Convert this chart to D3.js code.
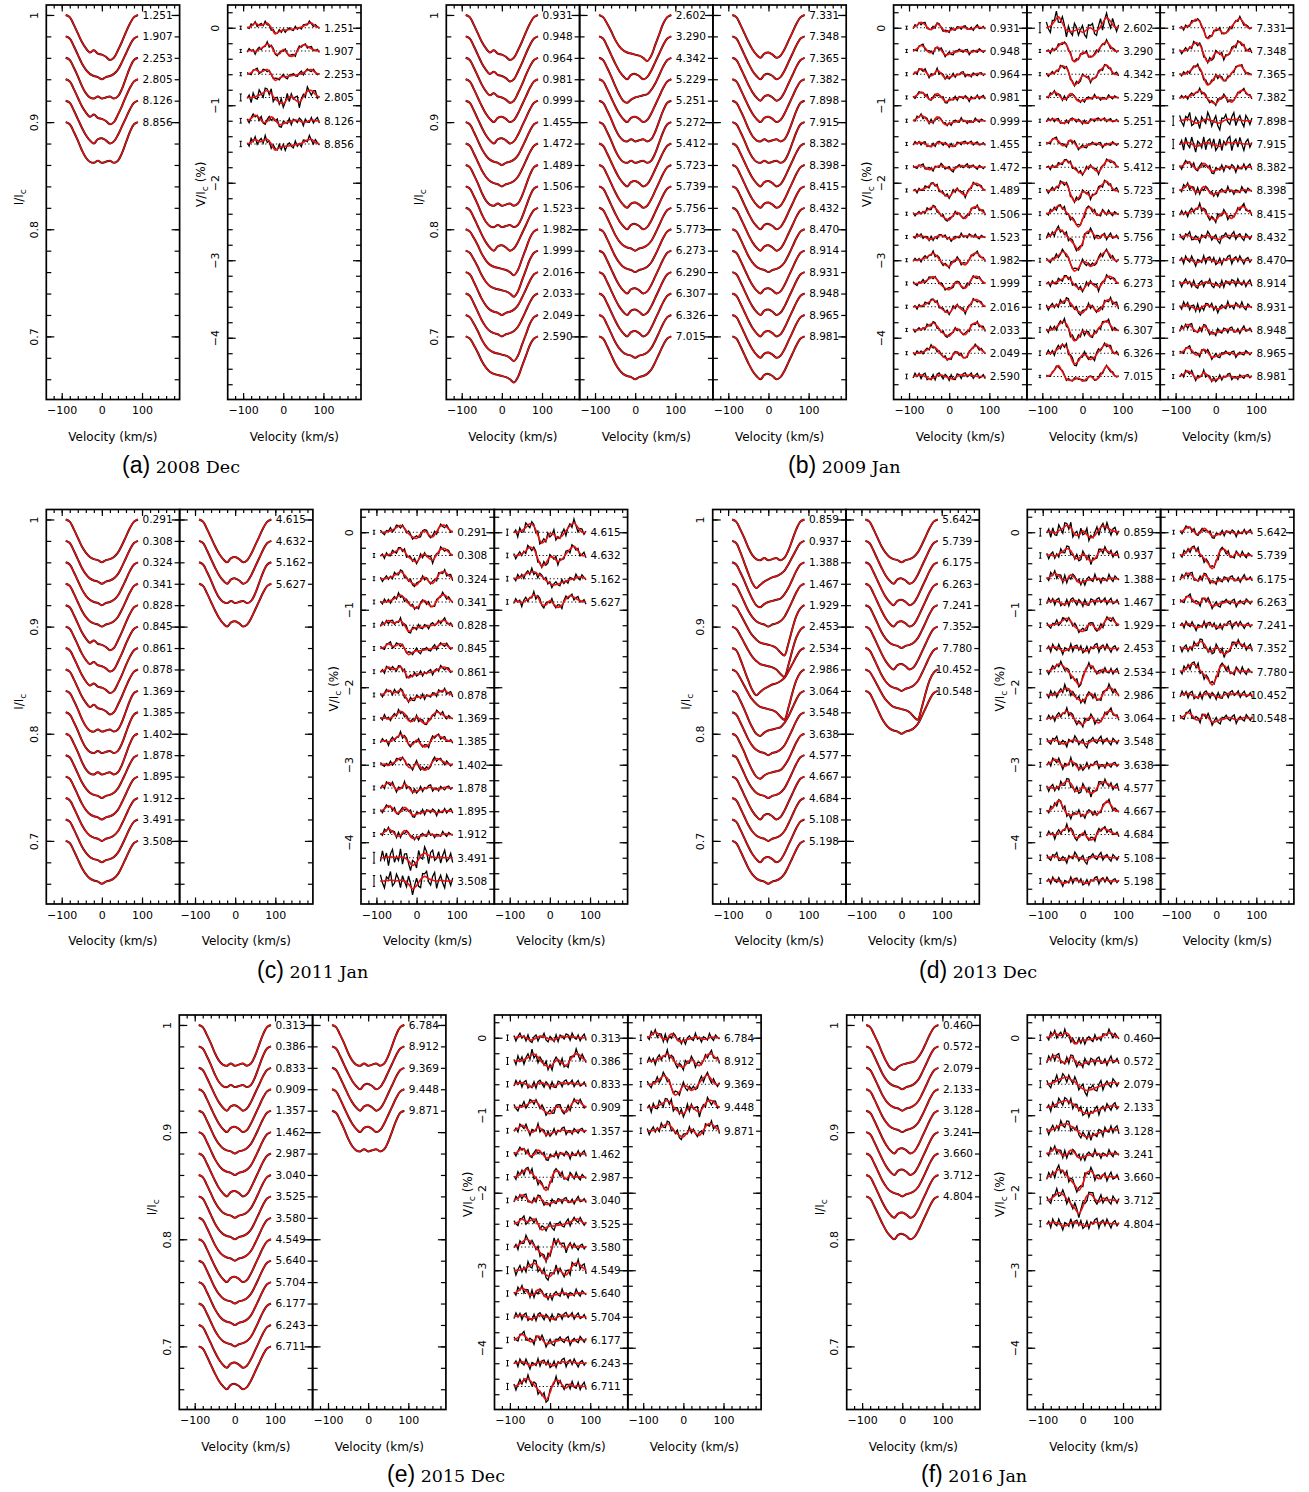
<!DOCTYPE html>
<html>
<head>
<meta charset="utf-8">
<script src="https://cdn.jsdelivr.net/npm/d3@7"></script>
<style>
	body { margin: 0; background: #fff; }
	svg text { font-family: "DejaVu Sans", sans-serif; fill: #000; }
</style>
</head>
<body>
<div id="chart"></div>
<script>

// velocity grids (km/s) for the model and observed profiles
let velGrid = [-90,-80,-70,-60,-50,-40,-30,-20,-10,0,10,20,30,40,50,60,70,80,90];
let velObs = [-90,-85,-80,-75,-70,-65,-60,-55,-50,-45,-40,-35,-30,-25,-20,-15,-10,-5,0,5,10,15,20,25,30,35,40,45,50,55,60,65,70,75,80,85,90];

let velTicks = [-100, 0, 100];
let iMajorTicks = [0.7, 0.8, 0.9, 1];
let vMajorTicks = [-4, -3, -2, -1, 0];

// Stokes I line depths, in units of 0.001 Ic, on velGrid
let iShapes = [
	[0,2,9,17,25,31,35,33,36,37,39,42,40,33,25,16,8,2,0],
	[0,2,9,17,26,34,40,42,39,37,36,35,34,30,24,16,8,2,0],
	[0,2,9,17,25,32,37,40,36,35,37,40,38,32,24,16,8,2,0],
	[0,2,9,17,25,31,35,37,38,40,38,37,35,31,24,16,8,2,0],
	[0,2,8,15,23,29,33,35,36,37,38,40,43,38,28,18,8,2,0],
	[0,2,9,17,26,33,37,38,36,38,37,36,38,36,29,19,9,2,0],
	[0,2,8,15,22,28,32,35,36,37,38,40,44,47,36,22,10,3,0],
	[0,2,10,20,30,39,44,41,38,36,34,33,31,28,22,15,8,2,0]
];

// Stokes V model profiles, in units of 0.01 %, on velGrid
let vShapes = [
	[0,3,7,4,-2,-1,5,1,-5,-4,-2,-1,1,0,-2,-1,1,0,0],
	[0,0,2,6,11,8,-4,-14,-10,-2,-3,-8,-5,2,8,12,6,0,0],
	[0,2,6,10,8,2,-4,-10,-17,-8,6,8,2,-2,3,0,1,0,0],
	[0,2,6,3,4,6,0,-8,-5,-3,-3,-2,-1,0,2,5,6,2,0],
	[0,0,1,3,6,9,5,-2,-6,-8,-2,2,-3,-6,1,8,9,4,0],
	[0,1,-1,2,5,9,6,-3,-4,2,-3,-7,-4,4,8,6,3,1,0],
	[0,1,2,0,-3,-2,1,2,0,-2,-3,0,2,1,2,1,0,0,0],
	[0,2,8,14,6,-3,-5,-4,-2,-6,-3,0,-4,-2,6,13,8,1,0],
	[0,0,1,1,0,1,0,-4,-10,-6,2,6,3,1,0,1,0,0,0],
	[0,1,3,6,8,9,6,3,-2,-6,-8,-7,-5,-3,-1,0,2,2,0]
];

// observed minus model, in units of the error bar, on velObs
let residuals = [
	[0.4,-0.9,1.3,-0.2,0.8,-1.2,0.3,0.9,-0.7,1.5,-1.0,0.2,-1.4,0.7,0.5,-0.3,1.1,-0.8,0.6,-1.3,0.4,1.0,-0.2,-0.9,1.2,-0.6,0.1,-1.1,0.8,0.3,-0.5,1.4,-0.3,-1.0,0.9,0.2,-0.4],
	[-0.6,1.1,-0.3,0.7,-1.4,0.5,1.2,-0.8,0.2,-0.5,1.3,-1.1,0.6,0.9,-0.4,-1.2,0.8,0.3,-0.9,1.4,-0.2,-0.7,1.0,0.4,-1.3,0.6,1.1,-0.5,-0.1,0.9,-1.0,0.3,1.2,-0.6,-0.2,0.7,-0.8],
	[1.0,-0.3,-1.1,0.6,0.2,1.4,-0.9,-0.4,1.1,0.3,-1.2,0.8,-0.1,-0.7,1.3,0.5,-1.0,0.2,1.2,-0.6,-1.3,0.7,0.4,1.0,-0.5,-0.9,0.6,1.3,-1.2,0.1,0.8,-0.4,-1.1,1.0,0.3,-0.7,0.5],
	[-0.2,0.6,-1.3,1.0,-0.4,-0.8,1.3,0.1,-1.1,0.9,0.4,-0.6,1.2,-1.3,0.3,0.8,-0.5,1.1,-0.9,-0.2,1.4,-1.0,0.5,-0.3,0.7,1.2,-1.4,0.2,0.6,-0.8,1.1,-0.1,-1.2,0.4,0.9,-0.6,0.3],
	[0.7,-1.2,0.2,1.1,-0.6,0.4,-1.0,1.3,-0.3,-0.9,0.8,1.0,-1.3,0.1,-0.4,1.2,-0.7,-1.1,0.9,0.3,-0.5,1.3,-1.2,0.6,-0.1,-0.8,1.0,0.5,-1.3,1.1,-0.2,-0.6,0.9,-1.0,0.4,1.2,-0.9]
];

// 2008 Dec
let phases2008Dec = [1.251,1.907,2.253,2.805,8.126,8.856];
let iShape2008Dec = [0,3,5,0,2,5];
let vShape2008Dec = [3,5,3,4,0,3];
let sigma2008Dec = [0.02,0.02,0.02,0.045,0.03,0.035];

// 2009 Jan
let phases2009Jan = [0.931,0.948,0.964,0.981,0.999,1.455,1.472,1.489,1.506,1.523,1.982,1.999,2.016,2.033,2.049,2.590,
	2.602,3.290,4.342,5.229,5.251,5.272,5.412,5.723,5.739,5.756,5.773,6.273,6.290,6.307,6.326,7.015,
	7.331,7.348,7.365,7.382,7.898,7.915,8.382,8.398,8.415,8.432,8.470,8.914,8.931,8.948,8.965,8.981];
let iShape2009Jan = [0,0,0,2,2,3,3,5,5,2,4,4,3,3,4,4, 4,2,1,2,5,5,2,2,2,3,3,2,2,2,3,3, 2,2,2,2,5,5,2,2,2,2,3,2,2,2,2,2];
let vShape2009Jan = [0,0,0,0,0,6,6,4,4,6,4,4,4,4,4,6, 7,1,1,0,6,0,4,1,2,2,1,4,4,1,1,7, 1,1,1,4,6,6,0,0,4,6,6,6,6,0,0,0];
let sigma2009Jan = [0.02,0.02,0.02,0.02,0.02,0.02,0.02,0.02,0.02,0.02,0.02,0.02,0.02,0.02,0.02,0.03,
	0.065,0.02,0.02,0.02,0.02,0.02,0.02,0.025,0.025,0.03,0.025,0.025,0.03,0.03,0.03,0.015,
	0.02,0.025,0.02,0.02,0.06,0.06,0.03,0.03,0.03,0.035,0.035,0.035,0.035,0.03,0.025,0.025];

// 2011 Jan
let phases2011Jan = [0.291,0.308,0.324,0.341,0.828,0.845,0.861,0.878,1.369,1.385,1.402,1.878,1.895,1.912,3.491,3.508,
	4.615,4.632,5.162,5.627];
let iShape2011Jan = [3,3,3,3,0,0,0,0,5,5,5,3,3,3,3,3, 2,2,5,2];
let vShape2011Jan = [4,4,4,4,3,3,3,3,5,5,5,0,0,0,8,8, 1,1,9,5];
let sigma2011Jan = [0.025,0.025,0.025,0.025,0.025,0.025,0.025,0.025,0.025,0.025,0.025,0.025,0.025,0.025,0.07,0.07,
	0.04,0.03,0.03,0.03];

// 2013 Dec
let phases2013Dec = [0.859,0.937,1.388,1.467,1.929,2.453,2.534,2.986,3.064,3.548,3.638,4.577,4.667,4.684,5.108,5.198,
	5.642,5.739,6.175,6.263,7.241,7.352,7.780,10.452,10.548];
let iShape2013Dec = [5,7,1,3,6,6,7,6,1,3,1,3,2,3,2,3, 3,2,2,2,3,2,3,6,3];
let vShape2013Dec = [5,5,0,6,4,6,2,4,4,6,0,5,7,5,6,6, 0,2,0,0,6,5,2,6,0];
let sigma2013Dec = [0.05,0.035,0.035,0.035,0.03,0.035,0.03,0.035,0.03,0.035,0.03,0.035,0.03,0.03,0.035,0.03,
	0.025,0.03,0.03,0.03,0.03,0.035,0.035,0.035,0.035];

// 2015 Dec
let phases2015Dec = [0.313,0.386,0.833,0.909,1.357,1.462,2.987,3.040,3.525,3.580,4.549,5.640,5.704,6.177,6.243,6.711,
	6.784,8.912,9.369,9.448,9.871];
let iShape2015Dec = [5,5,2,2,3,3,2,3,3,3,2,3,3,3,2,2, 5,2,2,2,5];
let vShape2015Dec = [6,4,6,4,0,0,2,0,3,2,4,0,6,0,6,2, 0,4,1,4,4];
let sigma2015Dec = [0.035,0.045,0.035,0.035,0.03,0.03,0.035,0.03,0.035,0.035,0.045,0.035,0.035,0.035,0.035,0.04,
	0.035,0.035,0.035,0.04,0.035];

// 2016 Jan
let phases2016Jan = [0.460,0.572,2.079,2.133,3.128,3.241,3.660,3.712,4.804];
let iShape2016Jan = [1,3,3,3,2,2,3,2,2];
let vShape2016Jan = [3,0,9,9,9,0,2,2,6];
let sigma2016Jan = [0.035,0.04,0.045,0.04,0.04,0.035,0.04,0.045,0.04];

let epochs = [
	{tag: "(a)", title: "2008 Dec", phases: phases2008Dec, iShape: iShape2008Dec, vShape: vShape2008Dec, sigma: sigma2008Dec},
	{tag: "(b)", title: "2009 Jan", phases: phases2009Jan, iShape: iShape2009Jan, vShape: vShape2009Jan, sigma: sigma2009Jan},
	{tag: "(c)", title: "2011 Jan", phases: phases2011Jan, iShape: iShape2011Jan, vShape: vShape2011Jan, sigma: sigma2011Jan},
	{tag: "(d)", title: "2013 Dec", phases: phases2013Dec, iShape: iShape2013Dec, vShape: vShape2013Dec, sigma: sigma2013Dec},
	{tag: "(e)", title: "2015 Dec", phases: phases2015Dec, iShape: iShape2015Dec, vShape: vShape2015Dec, sigma: sigma2015Dec},
	{tag: "(f)", title: "2016 Jan", phases: phases2016Jan, iShape: iShape2016Jan, vShape: vShape2016Jan, sigma: sigma2016Jan}
];

// page layout
let rowTop = [5, 509.5, 1015];
let captionY = [472.5, 977.5, 1482];
let panelW = 133.3, panelH = 394.5;
let perColumn = 16;
let placement = [
	{row: 0, iLeft: 46.3, vLeft: 227.7, capX: 122},
	{row: 0, iLeft: 446.3, vLeft: 893.6, capX: 788},
	{row: 1, iLeft: 46.3, vLeft: 361, capX: 257},
	{row: 1, iLeft: 712.7, vLeft: 1027.3, capX: 919},
	{row: 2, iLeft: 179.3, vLeft: 494.5, capX: 387},
	{row: 2, iLeft: 846.7, vLeft: 1027.3, capX: 921}
];

let velDomain = [-138.4, 193.6];
let iDomain = [0.6411, 1.0093];
let vDomain = [-4.797, 0.2933];
let iStep = 0.02, vStep = 0.3;


class ProfilePanel {

	constructor(svg, config) {
		this.svg = svg;
		this.config = config;
		this.initVis();
	}

	initVis() {
		let vis = this;
		let c = vis.config;

		vis.g = vis.svg.append("g")
			.attr("transform", "translate(" + c.left + "," + c.top + ")");

		vis.x = d3.scaleLinear().domain(velDomain).range([0, panelW]);
		vis.y = d3.scaleLinear()
			.domain(c.stokes === "I" ? iDomain : vDomain)
			.range([panelH, 0]);

		vis.drawAxes();
		vis.updateVis();
	}

	drawAxes() {
		let vis = this;
		let c = vis.config;

		let minorX = d3.range(-120, 181, 20);
		let majorY = c.stokes === "I" ? iMajorTicks : vMajorTicks;
		let minorY = c.stokes === "I" ? d3.range(0.66, 1.005, 0.02) : d3.range(-4.6, 0.25, 0.2);

		let addAxis = (axis, tx, ty) => {
			let a = vis.g.append("g")
				.attr("class", "axis")
				.attr("transform", "translate(" + tx + "," + ty + ")")
				.call(axis.tickSizeOuter(0));
			a.select(".domain").remove();
			a.selectAll("line").attr("stroke", "#000").attr("stroke-width", 1.2);
			a.selectAll("text").attr("font-family", "DejaVu Sans").attr("font-size", 11);
			return a;
		};

		// velocity axes, labelled at the bottom only
		addAxis(d3.axisBottom(vis.x).tickValues(velTicks).tickSize(-6.5).tickPadding(7).tickFormat(d3.format("d")), 0, panelH);
		addAxis(d3.axisBottom(vis.x).tickValues(minorX).tickSize(-3.5).tickFormat(""), 0, panelH);
		addAxis(d3.axisTop(vis.x).tickValues(velTicks).tickSize(-6.5).tickFormat(""), 0, 0);
		addAxis(d3.axisTop(vis.x).tickValues(minorX).tickSize(-3.5).tickFormat(""), 0, 0);

		// intensity axes
		let left = addAxis(d3.axisLeft(vis.y).tickValues(majorY).tickSize(-8), 0, 0);
		addAxis(d3.axisLeft(vis.y).tickValues(minorY).tickSize(-5).tickFormat(""), 0, 0);
		addAxis(d3.axisRight(vis.y).tickValues(majorY).tickSize(-8).tickFormat(""), panelW, 0);
		addAxis(d3.axisRight(vis.y).tickValues(minorY).tickSize(-5).tickFormat(""), panelW, 0);

		if (c.showYLabels) {
			left.selectAll("text")
				.text(d => c.stokes === "I" ? (d === 1 ? "1" : d3.format(".1f")(d)) : d3.format("d")(d))
				.attr("x", 0)
				.attr("dy", 0)
				.attr("text-anchor", "middle")
				.attr("transform", "translate(-8.5,0) rotate(-90)");
		} else {
			left.selectAll("text").remove();
		}

		vis.g.append("rect")
			.attr("width", panelW)
			.attr("height", panelH)
			.attr("fill", "none")
			.attr("stroke", "#000")
			.attr("stroke-width", 1.7);

		vis.g.append("text")
			.attr("x", panelW / 2)
			.attr("y", panelH + 41)
			.attr("text-anchor", "middle")
			.attr("font-size", 12)
			.text("Velocity (km/s)");
	}

	updateVis() {
		let vis = this;
		let c = vis.config;

		let smooth = d3.line()
			.x(d => vis.x(d[0]))
			.y(d => vis.y(d[1]))
			.curve(d3.curveCatmullRom);
		let jagged = d3.line()
			.x(d => vis.x(d[0]))
			.y(d => vis.y(d[1]));

		let profiles = vis.g.selectAll(".profile")
			.data(c.items)
			.join("g")
			.attr("class", "profile");

		profiles.each(function (d, j) {
			let p = d3.select(this);
			let level;

			if (c.stokes === "I") {
				level = 1 - iStep * j;
				let pts = velGrid.map((v, k) => [v, level - iShapes[d.iShape][k] / 1000]);
				p.append("path").attr("d", smooth(pts))
					.attr("fill", "none").attr("stroke", "#000").attr("stroke-width", 2);
				p.append("path").attr("d", smooth(pts))
					.attr("fill", "none").attr("stroke", "#ee1111").attr("stroke-width", 1.4);
			} else {
				level = -vStep * j;
				let model = velGrid.map((v, k) => [v, level + vShapes[d.vShape][k] / 100]);
				let interp = d3.scaleLinear().domain(velGrid).range(model.map(m => m[1]));
				let res = residuals[d.res];
				let obs = velObs.map((v, k) => [v, interp(v) + (res[k] || 0) * d.sigma * 1.15]);

				p.append("line")
					.attr("x1", vis.x(-90)).attr("x2", vis.x(90))
					.attr("y1", vis.y(level)).attr("y2", vis.y(level))
					.attr("stroke", "#000").attr("stroke-width", 1.2)
					.attr("stroke-dasharray", "1.2,2.4");

				// error bar
				let ex = vis.x(-106);
				let y0 = vis.y(level - d.sigma), y1 = vis.y(level + d.sigma);
				p.append("path")
					.attr("d", "M" + ex + "," + y0 + "V" + y1 +
						"M" + (ex - 1.2) + "," + y0 + "H" + (ex + 1.2) +
						"M" + (ex - 1.2) + "," + y1 + "H" + (ex + 1.2))
					.attr("stroke", "#000").attr("stroke-width", 1).attr("fill", "none");

				p.append("path").attr("d", jagged(obs))
					.attr("fill", "none").attr("stroke", "#000").attr("stroke-width", 1.3);
				p.append("path").attr("d", smooth(model))
					.attr("fill", "none").attr("stroke", "#ee1111").attr("stroke-width", 1.6);
			}

			p.append("text")
				.attr("x", panelW - 7)
				.attr("y", vis.y(level))
				.attr("dy", "0.36em")
				.attr("text-anchor", "end")
				.attr("font-size", 10.5)
				.text(d3.format(".3f")(d.phase));
		});
	}
}


let svg = d3.select("#chart").append("svg")
	.attr("width", 1309)
	.attr("height", 1492);

epochs.forEach((ep, e) => {
	let pl = placement[e];
	let top = rowTop[pl.row];

	let items = ep.phases.map((phase, k) => ({
		phase: phase,
		iShape: ep.iShape[k],
		vShape: ep.vShape[k],
		sigma: ep.sigma[k],
		res: (k + e) % residuals.length
	}));

	let columns = [];
	for (let k = 0; k < items.length; k += perColumn) {
		columns.push(items.slice(k, k + perColumn));
	}

	columns.forEach((col, ci) => {
		new ProfilePanel(svg, {stokes: "I", items: col, left: pl.iLeft + ci * panelW, top: top, showYLabels: ci === 0});
		new ProfilePanel(svg, {stokes: "V", items: col, left: pl.vLeft + ci * panelW, top: top, showYLabels: ci === 0});
	});

	// axis titles
	let iTitle = svg.append("text")
		.attr("transform", "translate(" + (pl.iLeft - 23) + "," + (top + panelH / 2 - 5) + ") rotate(-90)")
		.attr("text-anchor", "middle")
		.attr("font-size", 12);
	iTitle.append("tspan").text("I/I");
	iTitle.append("tspan").attr("dy", 3).attr("font-size", 9).text("c");

	let vTitle = svg.append("text")
		.attr("transform", "translate(" + (pl.vLeft - 23) + "," + (top + panelH / 2 - 18) + ") rotate(-90)")
		.attr("text-anchor", "middle")
		.attr("font-size", 12);
	vTitle.append("tspan").text("V/I");
	vTitle.append("tspan").attr("dy", 3).attr("font-size", 9).text("c");
	vTitle.append("tspan").attr("dy", -3).text(" (%)");

	// caption
	let cap = svg.append("text")
		.attr("x", pl.capX)
		.attr("y", captionY[pl.row]);
	cap.append("tspan").attr("font-family", "Liberation Sans").attr("font-size", 23).text(ep.tag);
	cap.append("tspan").attr("font-family", "DejaVu Serif").attr("font-size", 17.5).text(" " + ep.title);
});

</script>
</body>
</html>
